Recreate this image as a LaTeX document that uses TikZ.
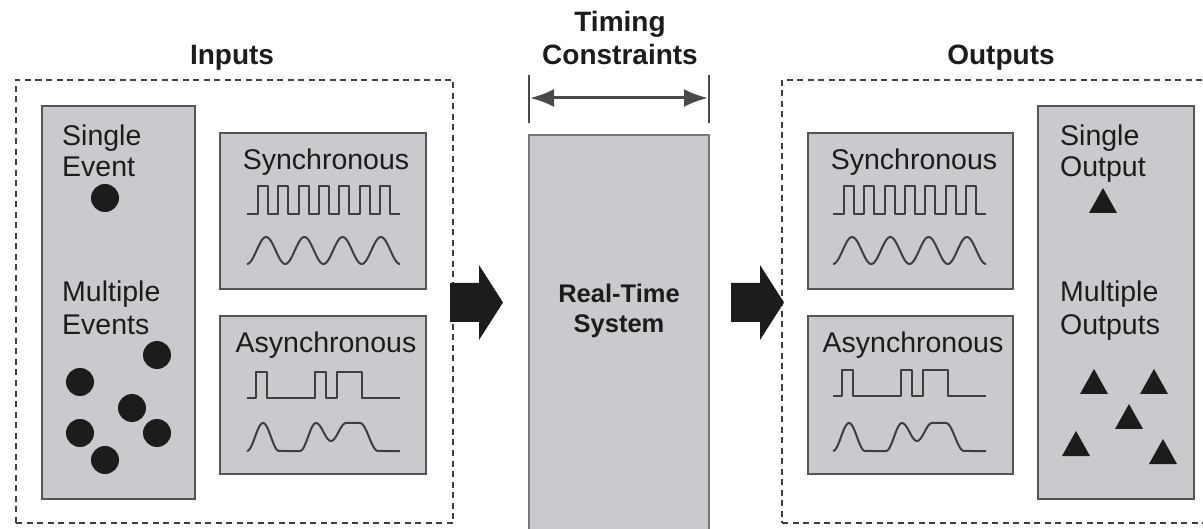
\documentclass[tikz,border=0pt]{standalone}
\usepackage{fontspec}
\setmainfont{Liberation Sans}
\usetikzlibrary{arrows.meta}
\definecolor{boxfill}{RGB}{202,202,206}
\definecolor{boxline}{RGB}{85,85,85}
\definecolor{sysline}{RGB}{120,120,120}
\definecolor{ink}{RGB}{28,28,28}
\begin{document}
\begin{tikzpicture}[x=1pt,y=-1pt,
  panel/.style={draw=boxline, line width=2.6pt, fill=boxfill, inner sep=0pt, outer sep=0pt, anchor=north west},
  frame/.style={draw=ink!85, line width=2.6pt, dash pattern=on 6pt off 4.5pt, inner sep=0pt, outer sep=0pt, anchor=north west},
  lbl/.style={font=\fontsize{28.5}{32}\selectfont, text=ink, inner sep=0pt, anchor=base west},
  clbl/.style={font=\fontsize{28.5}{32}\selectfont, text=ink, inner sep=0pt, anchor=base},
  title/.style={font=\fontsize{28}{32}\selectfont\bfseries, text=ink, inner sep=0pt, anchor=base},
  systxt/.style={font=\fontsize{25.5}{30}\selectfont\bfseries, text=ink, inner sep=0pt, anchor=base},
  dot/.style={circle, fill=ink, inner sep=0pt, minimum size=28pt},
  wave/.style={draw=ink!85, line width=2pt, line join=round},
  tick/.style={draw=ink!80, line width=2.4pt},
  span/.style={draw=ink!80, line width=3pt, arrows={Latex[length=24pt,width=18pt]-Latex[length=24pt,width=18pt]}},
  syncsq/.pic={\draw[wave] (0,28) -- (11,28) \foreach \i in {1,...,7}{ -- ++(0,-28) -- ++(10.15,0) -- ++(0,28) -- ++(10.15,0)};},
  syncsine/.pic={\draw[wave] plot[domain=0:153,samples=120] (\x,{13.5+13.5*cos(9.41176*\x)});},
  asyncsq/.pic={\draw[wave] (0,26) -- (9,26) -- (9,0) -- (20,0) -- (20,26) -- (68,26) -- (68,0) -- (79,0) -- (79,26) -- (90,26) -- (90,0) -- (115,0) -- (115,26) -- (153,26);},
  asyncsine/.pic={\draw[wave] plot[domain=0:32,samples=25] (\x,{15-14*cos(11.25*(\x-16))}) -- (53,29)
     -- plot[domain=53:69,samples=15] (\x,{15-14*cos(11.25*(\x-69))})
     -- plot[domain=69:99,samples=25] (\x,{1+9*(1-cos(12*(\x-69)))})
     -- (113,1)
     -- plot[domain=113:131,samples=15] (\x,{1+14*(1-cos(10*(\x-113)))}) -- (153,29);},
  tri/.pic={\fill[ink] (-14,12.5) -- (0,-12.5) -- (14,12.5) -- cycle;},
  fatarrow/.pic={\fill[ink] (0,-19.5) -- (29,-19.5) -- (29,-37.5) -- (53,0) -- (29,37.5) -- (29,19.5) -- (0,19.5) -- cycle;}
]
\useasboundingbox (0,0) rectangle (1203,529);

% ---- titles
\node[title] (tin) at (232,65) {Inputs};
\node[title] (tout) at (1001,65) {Outputs};
\node[title] (tt1) at (620,32) {Timing};
\node[title] (tt2) at (620,65) {Constraints};

% ---- frames
\node[frame, minimum width=437pt, minimum height=443pt] (inframe) at (16,80) {};
\node[frame, minimum width=440pt, minimum height=443pt] (outframe) at (782,80) {};

% ---- input panels
\node[panel, minimum width=153pt, minimum height=393pt] (inev) at (42,106) {};
\node[panel, minimum width=206pt, minimum height=156pt] (insync) at (220,133) {};
\node[panel, minimum width=206pt, minimum height=158pt] (inasync) at (220,316) {};

\node[lbl] (l1) at (62,146) {Single};
\node[lbl] (l2) at (62,177) {Event};
\node[dot] (d0) at (105,198) {};
\node[lbl] (l3) at (62,302) {Multiple};
\node[lbl] (l4) at (62,335) {Events};
\node[dot] (d1) at (157,355) {};
\node[dot] (d2) at (80,382) {};
\node[dot] (d3) at (132,408) {};
\node[dot] (d4) at (80,433) {};
\node[dot] (d5) at (157,433) {};
\node[dot] (d6) at (105,460) {};

\node[clbl] (ls1) at (326,170) {Synchronous};
\pic at (247,186) {syncsq};
\pic at (247,237) {syncsine};
\node[clbl] (la1) at (326,353) {Asynchronous};
\pic at (247,372) {asyncsq};
\pic at (247,422) {asyncsine};

% ---- system
\node[panel, draw=sysline, minimum width=180pt, minimum height=420pt] (sys) at (529,135) {};
\node[systxt] (s1) at (619,303) {Real-Time};
\node[systxt] (s2) at (619,333) {System};

% ---- timing constraint
\coordinate (ta) at (529,75);
\coordinate (tb) at (529,123);
\coordinate (tc) at (709,75);
\coordinate (td) at (709,123);
\coordinate (tl) at (530,98);
\coordinate (tr) at (708,98);
\draw[tick] (ta) -- (tb);
\draw[tick] (tc) -- (td);
\draw[span] (tl) -- (tr);

% ---- fat arrows
\pic at (450,302.5) {fatarrow};
\pic at (731,302.5) {fatarrow};

% ---- output panels
\node[panel, minimum width=205pt, minimum height=156pt] (outsync) at (808,133) {};
\node[panel, minimum width=205pt, minimum height=158pt] (outasync) at (808,316) {};
\node[panel, minimum width=156pt, minimum height=393pt] (outev) at (1038,106) {};

\node[clbl] (ls2) at (914,170) {Synchronous};
\pic at (833,186) {syncsq};
\pic at (833,237) {syncsine};
\node[clbl] (la2) at (913,353) {Asynchronous};
\pic at (833,370) {asyncsq};
\pic at (833,422) {asyncsine};

\node[lbl] (o1) at (1060,146) {Single};
\node[lbl] (o2) at (1060,177) {Output};
\pic at (1103,200.5) {tri};
\node[lbl] (o3) at (1060,302) {Multiple};
\node[lbl] (o4) at (1060,335) {Outputs};
\pic at (1094,381.5) {tri};
\pic at (1154,381.5) {tri};
\pic at (1129,416.5) {tri};
\pic at (1076,443.5) {tri};
\pic at (1163,451.5) {tri};
\end{tikzpicture}
\end{document}
